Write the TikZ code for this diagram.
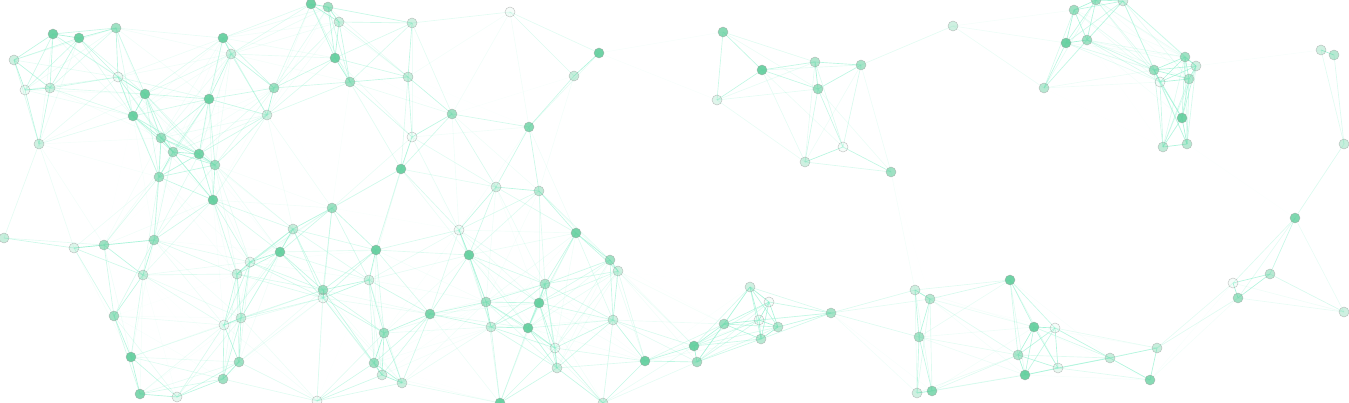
\documentclass[tikz,border=0pt]{standalone}
\usetikzlibrary{backgrounds}
\definecolor{dotgreen}{HTML}{5FCD9B}
\definecolor{linkcol}{HTML}{8AF0CC}
\definecolor{rimgray}{HTML}{A0A0A0}
\tikzset{
  pdot/.style={circle, inner sep=0pt, minimum size=10pt, draw=rimgray, draw opacity=0.6, line width=0.5pt, fill=dotgreen},
  linkline/.style={draw=linkcol, line width=0.65pt},
}
\begin{document}
\begin{tikzpicture}[x=1pt,y=-1pt]
\useasboundingbox (0,0) rectangle (1349,403);
\clip (0,0) rectangle (1349,403);
\foreach [count=\i] \xx/\yy/\aa in {
53/34/0.9, 79/38/0.9, 116/28/0.6, 14/60/0.3, 25/90/0.1, 50/88/0.3, 118/77/0.08, 145/94/0.9, 133/116/0.9, 39/144/0.3,
223/38/0.9, 231/54/0.3, 274/88/0.6, 209/99/0.9, 267/115/0.3, 161/138/0.6, 173/152/0.6, 199/154/0.85, 215/165/0.6, 159/177/0.6,
213/200/0.9, 311/4/0.9, 328/7/0.6, 339/22/0.3, 412/23/0.3, 510/12/0.06, 599/53/0.9, 574/76/0.35, 335/58/0.9, 350/82/0.6,
408/77/0.35, 452/114/0.6, 529/127/0.75, 412/137/0.06, 401/169/0.9, 496/187/0.25, 539/191/0.4, 332/208/0.6, 4/238/0.35, 74/248/0.2,
104/245/0.6, 154/240/0.6, 143/275/0.35, 114/316/0.6, 131/357/0.9, 140/394/0.8, 177/397/0.15, 293/229/0.35, 280/252/0.9, 250/262/0.15,
237/274/0.3, 224/325/0.08, 241/318/0.3, 239/362/0.6, 223/379/0.6, 376/250/0.9, 323/290/0.6, 323/298/0.08, 369/280/0.25, 430/314/0.8,
384/333/0.6, 374/363/0.6, 382/375/0.3, 402/383/0.35, 317/401/0.08, 459/230/0.06, 469/255/0.9, 576/233/0.85, 610/260/0.6, 618/271/0.3,
545/284/0.5, 486/302/0.55, 539/303/0.9, 491/327/0.3, 528/328/0.9, 613/320/0.3, 555/348/0.08, 557/368/0.3, 645/361/0.9, 500/403/0.9,
603/403/0.3, 723/32/0.75, 762/70/0.9, 815/62/0.5, 861/65/0.55, 818/89/0.6, 717/100/0.2, 843/147/0.06, 805/162/0.3, 891/172/0.6,
953/26/0.3, 1074/10/0.6, 1096/0/0.6, 1123/1/0.3, 1066/43/0.9, 1087/40/0.6, 1044/88/0.45, 1154/70/0.6, 1185/57/0.6, 1196/66/0.3,
1160/82/0.06, 1189/79/0.45, 1182/118/0.9, 1163/147/0.4, 1187/144/0.45, 1321/50/0.3, 1334/55/0.45, 1344/144/0.35, 694/346/0.9, 697/362/0.6,
724/324/0.6, 750/287/0.3, 769/302/0.06, 759/320/0.08, 778/327/0.45, 761/339/0.45, 831/313/0.55, 915/290/0.3, 930/299/0.45, 919/337/0.55,
917/393/0.3, 932/391/0.75, 1010/280/0.9, 1034/327/0.9, 1055/328/0.06, 1018/355/0.5, 1025/375/0.9, 1058/368/0.15, 1110/358/0.35, 1157/348/0.35,
1150/380/0.75, 1295/218/0.8, 1270/274/0.45, 1233/283/0.06, 1238/298/0.6, 1344/312/0.3}
{
  \node[pdot, fill opacity=\aa] (c\i) at (\xx,\yy) {};
  \expandafter\xdef\csname px\i\endcsname{\xx}
  \expandafter\xdef\csname py\i\endcsname{\yy}
}
\begin{scope}[on background layer]
\foreach \i in {1,...,135} {
  \pgfmathtruncatemacro\ii{\i+1}
  \foreach \j in {\ii,...,136} {
    \dimen0=\csname px\i\endcsname pt
    \advance\dimen0 by -\csname px\j\endcsname pt
    \ifdim\dimen0<0pt \dimen0=-\dimen0 \fi
    \dimen2=\csname py\i\endcsname pt
    \advance\dimen2 by -\csname py\j\endcsname pt
    \ifdim\dimen2<0pt \dimen2=-\dimen2 \fi
    \edef\dx{\the\dimen0}\edef\dy{\the\dimen2}
    \ifdim\dx<135pt \ifdim\dy<135pt
      \pgfmathsetmacro\dd{veclen(\dx,\dy)}
      \ifdim\dd pt<135pt
        \pgfmathsetmacro\op{0.9*(1-\dd/135)}
        \draw[linkline, draw opacity=\op] (c\i.center) -- (c\j.center);
      \fi
    \fi\fi
  }
}
\end{scope}
\end{tikzpicture}
\end{document}
